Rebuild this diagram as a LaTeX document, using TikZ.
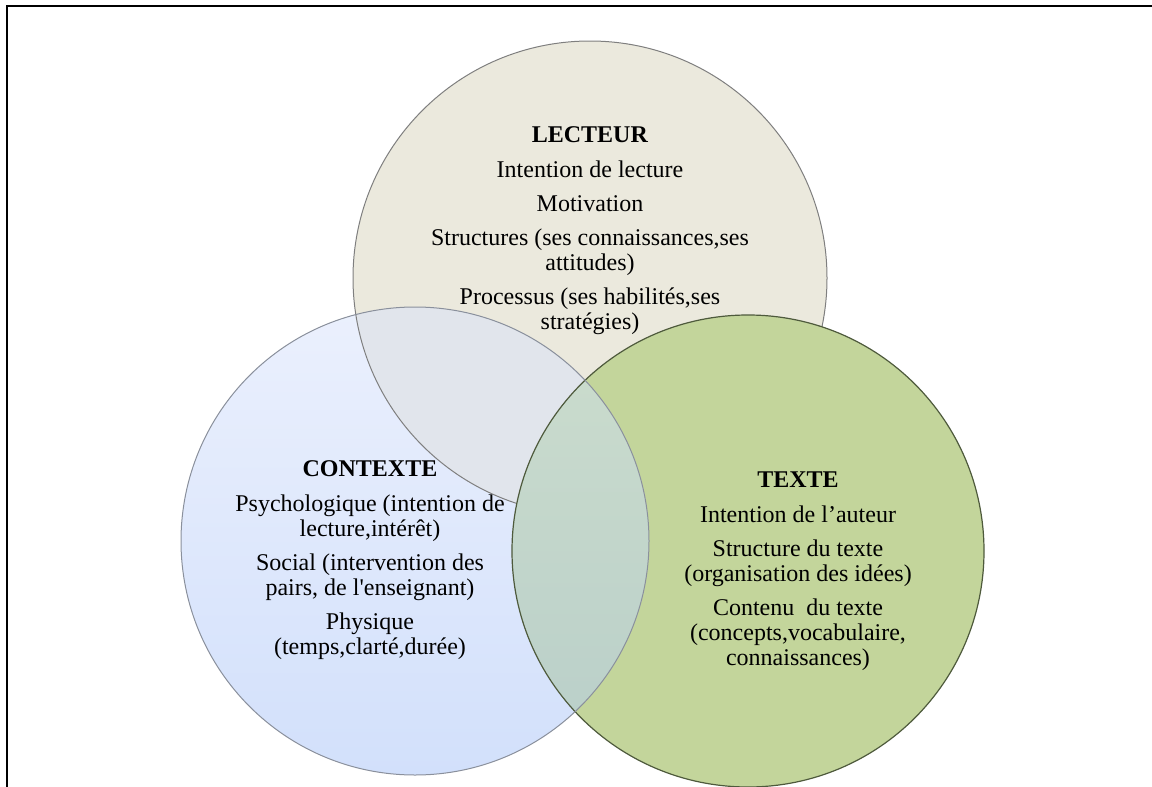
\documentclass[tikz,border=0pt]{standalone}
\usepackage{fontspec}
\setmainfont{Liberation Serif}
\definecolor{vennTan}{HTML}{EBE9DD}
\definecolor{vennTanEdge}{HTML}{7F7F7F}
\definecolor{vennBlueTop}{HTML}{EBF0FD}
\definecolor{vennBlueBottom}{HTML}{D2E0FB}
\definecolor{vennBlueEdge}{HTML}{8A909C}
\definecolor{vennGreen}{HTML}{C3D59B}
\definecolor{vennGreenEdge}{HTML}{4E5A3C}
\definecolor{vennMix}{HTML}{E1E5EC}
\definecolor{vennMixTop}{HTML}{CCDDCD}
\definecolor{vennMixBottom}{HTML}{B8CEC9}
\tikzset{
  frameLine/.style={black, line width=1pt, line join=miter},
  tanEdge/.style={draw=vennTanEdge, line width=0.5pt},
  blueEdge/.style={draw=vennBlueEdge, line width=0.5pt},
  greenEdge/.style={draw=vennGreenEdge, line width=0.6pt},
  vennText/.style={
    align=center,
    anchor=north,
    inner sep=0pt,
    font=\fontsize{12}{12.5}\selectfont
  }
}

\begin{document}
\begin{tikzpicture}[x=0.5pt,y=-0.5pt]
  \useasboundingbox (0,0) rectangle (1152,787);
  \draw[frameLine] (7,787) -- (7,6) -- (1152,6);

  \coordinate (lecteurC) at (590,278);
  \coordinate (contexteC) at (415,541);
  \coordinate (texteC) at (748,551);

  \fill[vennTan] (lecteurC) circle [radius=118.5pt];
  \draw[tanEdge] (lecteurC) circle [radius=118.5pt];
  \fill[vennGreen] (texteC) circle [radius=118pt];
  \draw[greenEdge] (texteC) circle [radius=118pt];
  \shade[top color=vennBlueTop, bottom color=vennBlueBottom]
    (contexteC) circle [radius=117pt];
  \begin{scope}
    \clip (contexteC) circle [radius=117pt];
    \fill[vennMix] (lecteurC) circle [radius=118.5pt];
    \draw[tanEdge] (lecteurC) circle [radius=118.5pt];
    \shade[top color=vennMixTop, bottom color=vennMixBottom]
      (texteC) circle [radius=118pt];
    \draw[greenEdge] (texteC) circle [radius=118pt];
  \end{scope}
  \draw[blueEdge] (contexteC) circle [radius=117pt];

  \node[vennText] (lecteur) at (590,126)
    {\textbf{LECTEUR}\\[5pt]
    Intention de lecture\\[4.5pt]
    Motivation\\[4.5pt]
    Structures (ses connaissances,ses\\ attitudes)\\[4.5pt]
    Processus (ses habilités,ses\\ stratégies)};
  \node[vennText] (contexte) at (370,460)
    {\textbf{CONTEXTE}\\[5pt]
    Psychologique (intention de\\ lecture,intérêt)\\[4.5pt]
    Social (intervention des\\ pairs, de l\textquotesingle enseignant)\\[4.5pt]
    Physique\\ (temps,clarté,durée)};
  \node[vennText] (texte) at (798,471)
    {\textbf{TEXTE}\\[5pt]
    Intention de l’auteur\\[4.5pt]
    Structure du texte\\ (organisation des idées)\\[4.5pt]
    Contenu\ \ du texte\\ (concepts,vocabulaire,\\ connaissances)};
\end{tikzpicture}
\end{document}
